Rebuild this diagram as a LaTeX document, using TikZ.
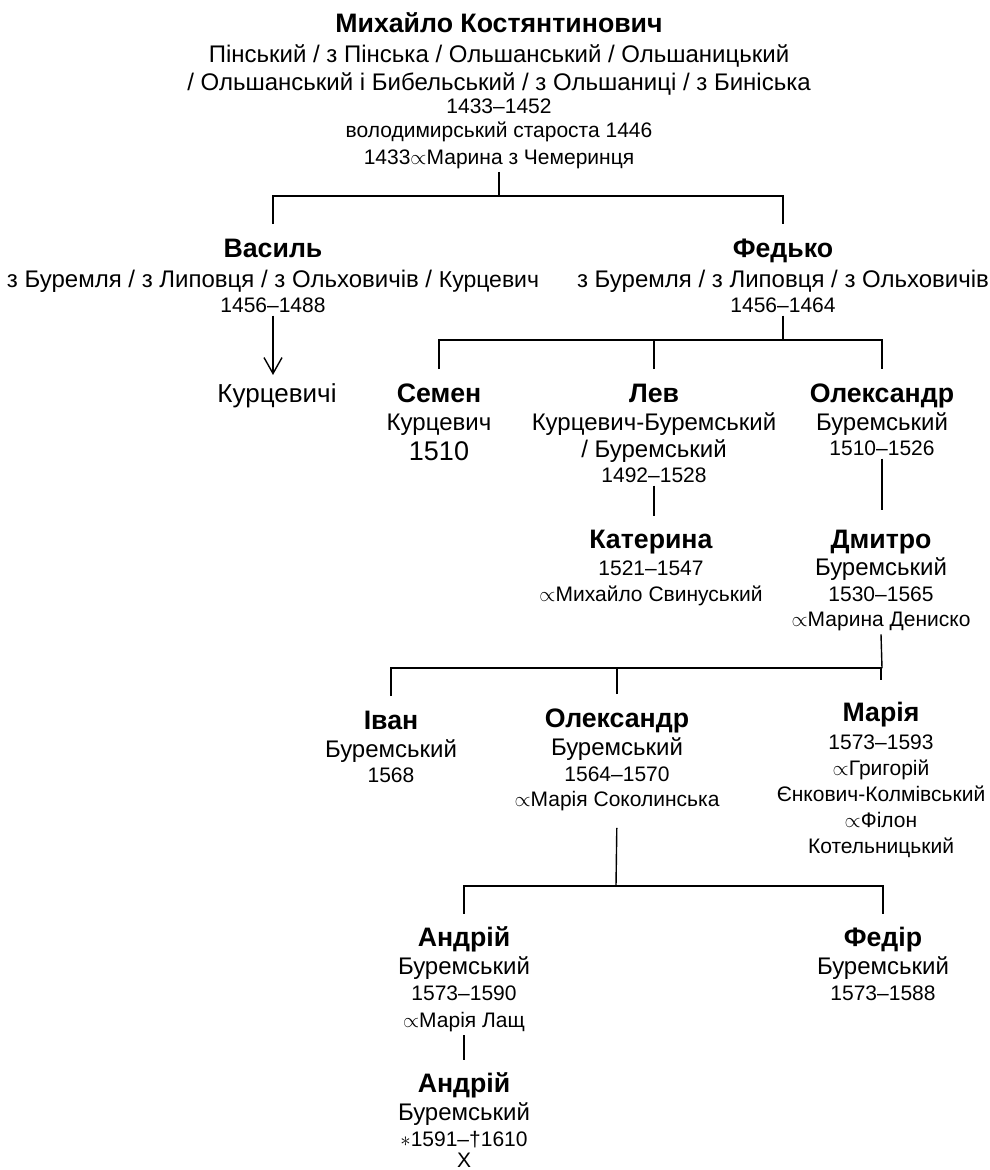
\documentclass[tikz,border=0pt]{standalone}
\usepackage{fontspec}
\setmainfont{Liberation Sans}
\usetikzlibrary{arrows.meta}

\newcommand{\pname}[1]{\rule{0pt}{30pt}\textbf{\fontsize{26.7}{30}\selectfont #1}}
\newcommand{\smtext}[1]{{\fontsize{21}{24}\selectfont #1}}
\newcommand{\wedto}{$\propto$}

\begin{document}
\begin{tikzpicture}[x=1pt,y=-1pt,
    person/.style={align=center,inner sep=3pt,anchor=north,font=\fontsize{24}{26}\selectfont},
    link/.style={line width=1.4pt}]

    \useasboundingbox (0,0) rectangle (990,1170);

    \node[person] (mik)  at (499,-1)    {\pname{Михайло Костянтинович}\\[4pt]
                                          Пінський / з Пінська / Ольшанський / Ольшаницький\\[2pt]
                                          / Ольшанський і Бибельський / з Ольшаниці / з Биніська\\[-3pt]
                                          \smtext{1433–1452}\\[-2pt]
                                          \smtext{володимирський староста 1446}\\[1pt]
                                          \smtext{1433\wedto Марина з Чемеринця}};
    \node[person] (vas)  at (273,224)   {\pname{Василь}\\[4pt]
                                          з Буремля / з Липовця / з Ольховичів / {\fontsize{23}{26}\selectfont Курцевич}\\[-1pt]
                                          \smtext{1456–1488}};
    \node[person] (fed)  at (783,224)   {\pname{Федько}\\[4pt]
                                          з Буремля / з Липовця / з Ольховичів\\[-1pt]
                                          \smtext{1456–1464}};
    \node[person,anchor=base,font=\fontsize{26}{26}\selectfont] (kurc) at (277,402) {Курцевичі};
    \node[person] (sem)  at (439,369)   {\pname{Семен}\\[2pt]
                                          Курцевич\\[4pt]
                                          {\fontsize{27}{26}\selectfont 1510}};
    \node[person] (lev)  at (654,369)   {\pname{Лев}\\[2pt]
                                          Курцевич-Буремський\\[1pt]
                                          / Буремський\\[-1pt]
                                          \smtext{1492–1528}};
    \node[person] (olx)  at (882,369)   {\pname{Олександр}\\[2pt]
                                          Буремський\\[-1pt]
                                          \smtext{1510–1526}};
    \node[person] (kat)  at (651,515.5) {\pname{Катерина}\\[1pt]
                                          \smtext{1521–1547}\\
                                          \smtext{\wedto Михайло Свинуський}};
    \node[person] (dmy)  at (881,515.5) {\pname{Дмитро}\\[1pt]
                                          Буремський\\
                                          \smtext{1530–1565}\\[-1pt]
                                          \smtext{\wedto Марина Дениско}};
    \node[person] (iva)  at (391,696)   {\pname{Іван}\\[2pt]
                                          Буремський\\[-1pt]
                                          \smtext{1568}};
    \node[person] (olx2) at (617,694)   {\pname{Олександр}\\[2pt]
                                          Буремський\\
                                          \smtext{1564–1570}\\[-1pt]
                                          \smtext{\wedto Марія Соколинська}};
    \node[person] (mar)  at (881,688)   {\pname{Марія}\\[2pt]
                                          \smtext{1573–1593}\\
                                          \smtext{\wedto Григорій}\\
                                          \smtext{Єнкович-Колмівський}\\
                                          \smtext{\wedto Філон}\\
                                          \smtext{Котельницький}};
    \node[person] (andr) at (464,913.5) {\pname{Андрій}\\[2pt]
                                          Буремський\\
                                          \smtext{1573–1590}\\[1pt]
                                          \smtext{\wedto Марія Лащ}};
    \node[person] (fdr)  at (883,913.5) {\pname{Федір}\\[2pt]
                                          Буремський\\
                                          \smtext{1573–1588}};
    \node[person] (andr2) at (464,1059.5) {\pname{Андрій}\\[2pt]
                                          Буремський\\
                                          \smtext{$\ast$1591–†1610}\\[-5pt]
                                          \smtext{X}};

    \coordinate (j1) at (499,196);
    \coordinate (j2) at (783,340);
    \coordinate (j3) at (882,668);
    \coordinate (j4) at (616,886);

    \draw[link] (mik.south) -- (j1);
    \draw[link] (vas.north) |- (j1) -| (fed.north);
    \draw[link,-{Straight Barb[length=16pt,width=18pt]},shorten >=5pt] (vas.south) -- (vas.south |- kurc.north);

    \draw[link] (fed.south) -- (j2);
    \draw[link] (sem.north) |- (j2) -| (olx.north);
    \draw[link] (lev.north) -- (lev.north |- j2);

    \draw[link] (lev.south) -- (lev.south |- kat.north);
    \draw[link,shorten >=6pt] (olx.south) -- (olx.south |- dmy.north);

    \draw[link] (dmy.south) -- (j3);
    \draw[link,shorten >=8pt] (iva.north) |- (j3) -| (mar.north);
    \draw[link] (olx2.north) -- (olx2.north |- j3);

    \draw[link,shorten <=14pt] (olx2.south) -- (j4);
    \draw[link] (andr.north) |- (j4) -| (fdr.north);
    \draw[link] (andr.south) -- (andr.south |- andr2.north);

  \end{tikzpicture}
\end{document}
